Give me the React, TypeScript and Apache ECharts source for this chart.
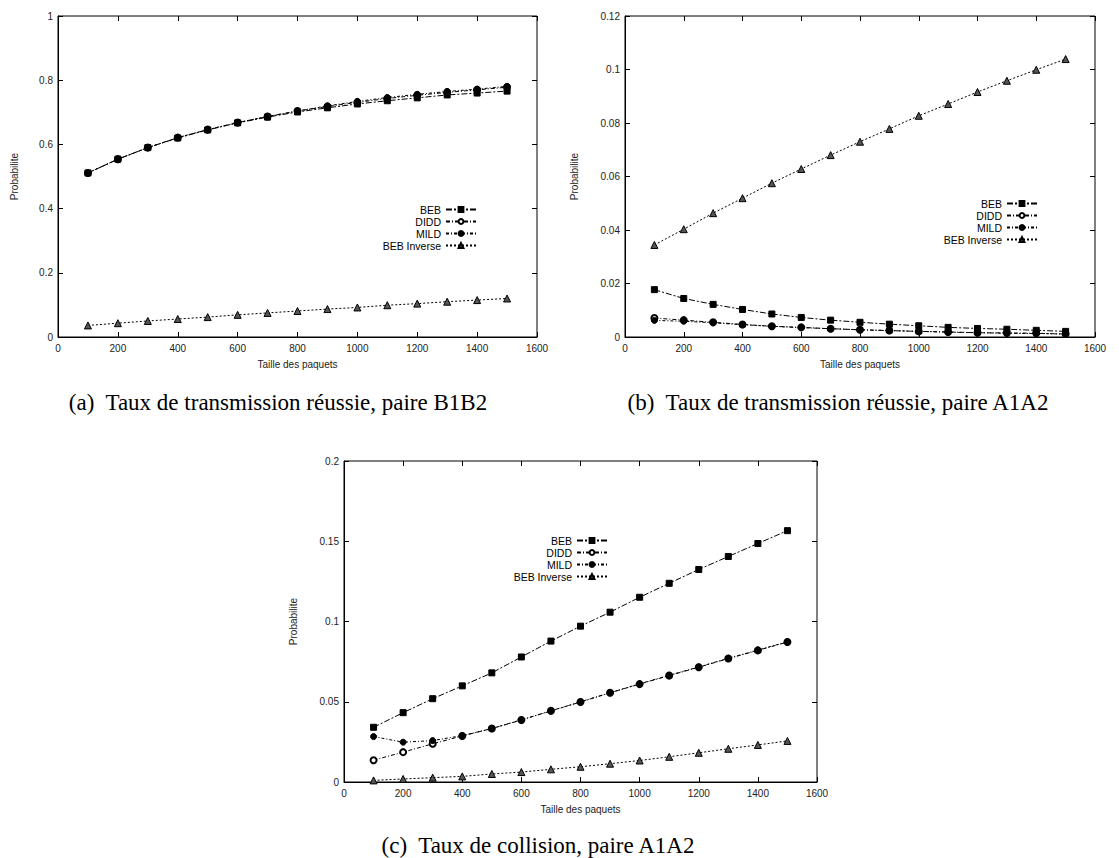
import React, { useEffect, useRef } from "react";
import * as echarts from "echarts";

const sizes = [100, 200, 300, 400, 500, 600, 700, 800, 900, 1000, 1100, 1200, 1300, 1400, 1500];
const seriesNames = ["BEB", "DIDD", "MILD", "BEB Inverse"];

// (a) Taux de transmission réussie, paire B1B2
const aBEB = [0.511, 0.554, 0.590, 0.620, 0.645, 0.667, 0.685, 0.701, 0.714, 0.726, 0.736, 0.745, 0.754, 0.760, 0.766];
const aDIDD = [0.511, 0.554, 0.590, 0.621, 0.646, 0.668, 0.687, 0.704, 0.718, 0.731, 0.743, 0.753, 0.762, 0.770, 0.778];
const aMILD = [0.511, 0.554, 0.590, 0.621, 0.646, 0.668, 0.687, 0.704, 0.720, 0.734, 0.746, 0.756, 0.765, 0.772, 0.781];
const aINV = [0.036, 0.043, 0.050, 0.056, 0.062, 0.069, 0.075, 0.081, 0.087, 0.092, 0.099, 0.104, 0.110, 0.115, 0.120];

// (b) Taux de transmission réussie, paire A1A2
const bBEB = [0.0177, 0.0144, 0.0122, 0.0103, 0.0086, 0.0073, 0.0063, 0.0055, 0.0048, 0.0042, 0.0036, 0.0032, 0.0029, 0.0025, 0.0021];
const bDIDD = [0.0071, 0.0063, 0.0055, 0.0047, 0.0040, 0.0036, 0.0031, 0.0027, 0.0024, 0.0021, 0.0019, 0.0016, 0.0015, 0.0014, 0.0011];
const bMILD = [0.0062, 0.0059, 0.0053, 0.0046, 0.0040, 0.0035, 0.0031, 0.0027, 0.0024, 0.0021, 0.0018, 0.0016, 0.0014, 0.0013, 0.0011];
const bINV = [0.0344, 0.0403, 0.0463, 0.0519, 0.0575, 0.0628, 0.0680, 0.0730, 0.0778, 0.0827, 0.0871, 0.0916, 0.0958, 0.0999, 0.1039];

// (c) Taux de collision, paire A1A2
const cBEB = [0.0341, 0.0432, 0.0519, 0.0599, 0.0680, 0.0779, 0.0878, 0.0971, 0.1058, 0.1151, 0.1238, 0.1324, 0.1405, 0.1486, 0.1566];
const cDIDD = [0.0136, 0.0186, 0.0238, 0.0287, 0.0333, 0.0386, 0.0444, 0.0498, 0.0556, 0.0610, 0.0663, 0.0715, 0.0769, 0.0820, 0.0872];
const cMILD = [0.0283, 0.0248, 0.0258, 0.0289, 0.0333, 0.0388, 0.0442, 0.0500, 0.0556, 0.0612, 0.0665, 0.0717, 0.0771, 0.0822, 0.0874];
const cINV = [0.0010, 0.0019, 0.0027, 0.0035, 0.0050, 0.0062, 0.0079, 0.0095, 0.0114, 0.0134, 0.0157, 0.0182, 0.0207, 0.0231, 0.0256];

const xTicks = { min: 0, max: 1600, interval: 200 };
const yRanges = [
  { min: 0, max: 1, interval: 0.2 },
  { min: 0, max: 0.12, interval: 0.02 },
  { min: 0, max: 0.2, interval: 0.05 },
];
const captions = [
  "(a)\u00a0 Taux de transmission réussie, paire B1B2",
  "(b)\u00a0 Taux de transmission réussie, paire A1A2",
  "(c)\u00a0 Taux de collision, paire A1A2",
];
const xAxisTitle = "Taille des paquets";
const yAxisTitle = "Probabilite";

const panelData = [
  [aBEB, aDIDD, aMILD, aINV],
  [bBEB, bDIDD, bMILD, bINV],
  [cBEB, cDIDD, cMILD, cINV],
];

const SANS = "Liberation Sans";
const SERIF = "Liberation Serif";

const grids = [
  { left: 58, top: 16, width: 479, height: 321 },
  { left: 625, top: 16, width: 470, height: 321 },
  { left: 344, top: 461, width: 473, height: 321 },
];
const yNameGaps = [39, 46, 46];
const legendPos = [
  { right: 642, top: 204 },
  { right: 81, top: 198 },
  { right: 511, top: 535 },
];
const captionPos = [
  { x: 278, y: 402 },
  { x: 838, y: 402 },
  { x: 538, y: 845 },
];

const styles = [
  { symbol: "rect", dash: [6, 2, 2, 2], color: "#000", border: "#000", size: 6, z: 10 },
  { symbol: "emptyCircle", dash: [4, 2, 1, 2], color: "#000", border: "#000", size: 6, z: 11 },
  { symbol: "circle", dash: [3, 2, 1, 2], color: "#000", border: "#000", size: 6, z: 12 },
  { symbol: "triangle", dash: [2, 2], color: "#555", border: "#000", size: 7, z: 9 },
];

const fmt = (v: number) => String(parseFloat(v.toFixed(4)));

export default function App() {
  const ref = useRef<HTMLDivElement>(null);
  useEffect(() => {
    if (!ref.current) return;
    const chart = echarts.init(ref.current, undefined, { renderer: "svg" });

    const xAxes: any[] = [];
    const yAxes: any[] = [];
    const tick = { show: true, inside: true, length: 5, lineStyle: { color: "#000", width: 1 } };
    grids.forEach((_, g) => {
      xAxes.push({
        type: "value",
        gridIndex: g,
        position: "bottom",
        ...xTicks,
        name: xAxisTitle,
        nameLocation: "middle",
        nameGap: 22,
        nameTextStyle: { fontFamily: SANS, fontSize: 10, color: "#222" },
        axisLine: { show: true, onZero: false, lineStyle: { color: "#000", width: 1 } },
        axisTick: tick,
        axisLabel: { fontFamily: SANS, fontSize: 10, color: "#222", margin: 6, formatter: (v: number) => String(v) },
        splitLine: { show: false },
      });
      yAxes.push({
        type: "value",
        gridIndex: g,
        position: "left",
        ...yRanges[g],
        name: yAxisTitle,
        nameLocation: "middle",
        nameGap: yNameGaps[g],
        nameRotate: 90,
        nameTextStyle: { fontFamily: SANS, fontSize: 10, color: "#222" },
        axisLine: { show: true, onZero: false, lineStyle: { color: "#000", width: 1 } },
        axisTick: tick,
        axisLabel: { fontFamily: SANS, fontSize: 10, color: "#222", margin: 5, formatter: fmt },
        splitLine: { show: false },
      });
    });
    grids.forEach((_, g) => {
      xAxes.push({
        type: "value",
        gridIndex: g,
        position: "top",
        ...xTicks,
        axisLine: { show: false, onZero: false },
        axisTick: tick,
        axisLabel: { show: false },
        splitLine: { show: false },
      });
      yAxes.push({
        type: "value",
        gridIndex: g,
        position: "right",
        ...yRanges[g],
        axisLine: { show: false, onZero: false },
        axisTick: tick,
        axisLabel: { show: false },
        splitLine: { show: false },
      });
    });

    const series: any[] = [];
    panelData.forEach((panel, g) => {
      panel.forEach((vals, s) => {
        const st = styles[s];
        series.push({
          type: "line",
          name: seriesNames[s],
          xAxisIndex: g,
          yAxisIndex: g,
          data: sizes.map((x, i) => [x, vals[i]]),
          symbol: st.symbol,
          symbolSize: st.size,
          showAllSymbol: true,
          lineStyle: { color: "#000", width: 1, type: st.dash },
          itemStyle: { color: st.color, borderColor: st.border, borderWidth: 1 },
          z: st.z,
        });
      });
    });

    const legends = legendPos.map((p) => ({
      show: true,
      orient: "vertical",
      align: "right",
      right: p.right,
      top: p.top,
      padding: 0,
      itemGap: 1,
      itemWidth: 30,
      itemHeight: 6,
      selectedMode: false,
      data: seriesNames,
      textStyle: { fontFamily: SANS, fontSize: 10.5, color: "#000", lineHeight: 10 },
    }));

    const graphic = captions.map((t, i) => ({
      type: "text",
      x: captionPos[i].x,
      y: captionPos[i].y,
      style: {
        text: t,
        fontFamily: SERIF,
        fontSize: 23,
        fill: "#000",
        align: "center",
        verticalAlign: "middle",
      },
    }));

    chart.setOption({
      animation: false,
      backgroundColor: "#fff",
      grid: grids.map((g) => ({ ...g, show: true, borderColor: "#000", borderWidth: 1, backgroundColor: "transparent" })),
      xAxis: xAxes,
      yAxis: yAxes,
      legend: legends,
      series,
      graphic,
    });
    return () => chart.dispose();
  }, []);
  return (
    <div
      ref={ref}
      style={{ position: "fixed", left: 0, top: 0, width: 1119, height: 858, background: "#fff" }}
    />
  );
}
